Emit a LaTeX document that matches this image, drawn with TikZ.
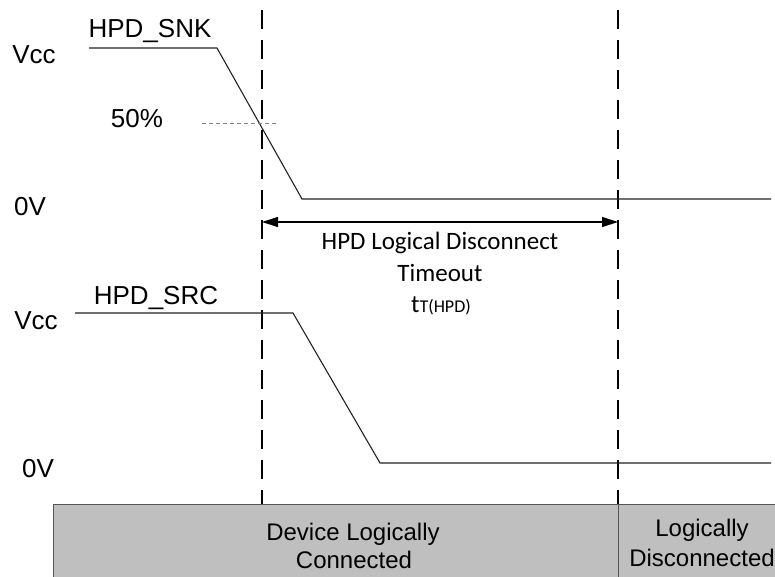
\documentclass[tikz,border=0pt]{standalone}
\usepackage{fontspec}
\setmainfont{Liberation Sans}
\newfontfamily\calibri{Carlito}
\usetikzlibrary{arrows.meta}
\definecolor{boxgray}{HTML}{BFBFBF}
\definecolor{boxedge}{HTML}{555555}
\definecolor{sig}{HTML}{222222}
\begin{document}
\begin{tikzpicture}[x=1pt,y=-1pt,
  lbl/.style={inner sep=0pt,anchor=base,font=\fontsize{26}{30}\selectfont},
  mid/.style={inner sep=0pt,anchor=base,font=\calibri\fontsize{25}{30}\selectfont},
  boxtxt/.style={inner sep=0pt,anchor=base,font=\fontsize{24}{28}\selectfont},
  marker/.style={line width=2.3pt,dash pattern=on 19pt off 11pt},
  signal/.style={line width=1.1pt,draw=sig},
  half/.style={line width=0.8pt,draw=gray,dash pattern=on 4pt off 3pt},
  span/.style={line width=1.2pt,{Triangle[length=16pt,width=10pt]}-{Triangle[length=16pt,width=10pt]}}]
\useasboundingbox (0,0) rectangle (775,576);
% coordinates
\coordinate (m1t) at (262,10);
\coordinate (m1b) at (262,504);
\coordinate (m2t) at (618,10);
\coordinate (m2b) at (618,504);
\coordinate (s1) at (89,48);
\coordinate (s2) at (217,48);
\coordinate (s3) at (302,199);
\coordinate (s4) at (771,199);
\coordinate (r1) at (75,313);
\coordinate (r2) at (293,313);
\coordinate (r3) at (380,463);
\coordinate (r4) at (771,463);
\coordinate (h1) at (202,123);
\coordinate (h2) at (277,123);
\coordinate (a1) at (262,222);
\coordinate (a2) at (618,222);
% bottom state box
\draw[fill=boxgray,draw=boxedge,line width=1pt] (53,504) rectangle (778,579);
\coordinate (dvt) at (618,504);
\coordinate (dvb) at (618,579);
\draw[boxedge,line width=1pt] (dvt) -- (dvb);
% marker lines
\draw[marker] (m1t) -- (m1b);
\draw[marker] (m2t) -- (m2b);
% signals
\draw[signal] (s1) -- (s2) -- (s3) -- (s4);
\draw[signal] (r1) -- (r2) -- (r3) -- (r4);
\draw[half] (h1) -- (h2);
\draw[span] (a1) -- (a2);
% labels
\node[lbl] (snk) at (150,37) {HPD\_SNK};
\node[lbl] (vcc1) at (34,63) {Vcc};
\node[lbl] (p50) at (137,127) {50\%};
\node[lbl] (zv1) at (30,215) {0V};
\node[lbl] (src) at (156,304) {HPD\_SRC};
\node[lbl] (vcc2) at (36,329) {Vcc};
\node[lbl] (zv2) at (38,477) {0V};
\node[mid] (t1) at (440,249) {HPD Logical Disconnect};
\node[mid] (t2) at (440,281) {Timeout};
\node[mid] (t3) at (441,312) {t{\fontsize{18}{20}\selectfont T(HPD)}};
\node[boxtxt] (c1) at (353,540) {Device Logically};
\node[boxtxt] (c2) at (354,568) {Connected};
\node[boxtxt] (d1) at (702,536) {Logically};
\node[boxtxt] (d2) at (702,566) {Disconnected};
\end{tikzpicture}
\end{document}
